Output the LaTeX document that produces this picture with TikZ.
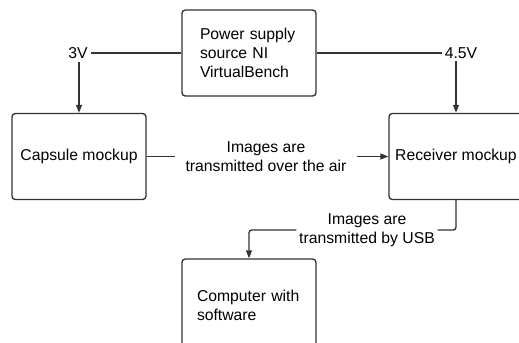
\documentclass[tikz,border=0pt]{standalone}
\usepackage{fontspec}
\setmainfont{Liberation Sans}
\usepackage{tikz}
\usetikzlibrary{arrows.meta, positioning, calc}
\definecolor{linegray}{rgb}{0.2,0.2,0.2}

\begin{document}
\begin{tikzpicture}[x=0.75pt, y=-0.75pt,
    font=\fontsize{11.8}{14.2}\selectfont,
    block/.style={draw=linegray, line width=1pt, rounded corners=2.5pt,
        minimum width=100.5pt, minimum height=64.5pt},
    tag/.style={inner xsep=2pt, inner ysep=2pt},
    wire/.style={draw=linegray, line width=1pt},
    feed/.style={wire, -{Triangle[length=6pt, width=4.5pt]}}]
    \useasboundingbox (0,0) rectangle (519,343);
    \clip (0,0) rectangle (519,343);

    % blocks
    \node[block, align=left, text width=73.5pt] (power) at (249,53)
        {Power supply\\source NI\\VirtualBench};
    \node[block] (capsule) at (79,156.5) {Capsule mockup};
    \node[block] (receiver) at (456,156.5) {Receiver mockup};
    \node[block, align=left, text width=78pt, minimum height=69pt] (computer) at (249,305)
        {Computer with\\software};

    % supply voltages
    \node[tag] (v3) at (78,53) {3V};
    \node[tag] (v45) at (461,53) {4.5V};
    \draw[wire] (power.west) -- (v3.east);
    \draw[wire] (power.east) -- (v45.west);
    \draw[feed] (v3.south -| capsule.north) -- (capsule.north);
    \draw[feed] (v45.south -| receiver.north) -- (receiver.north);

    % image links
    \node[align=center, inner xsep=8pt] (air) at (266,156.5)
        {Images are\\transmitted over the air};
    \draw[wire] (capsule.east) -- (air.west);
    \draw[feed] (air.east) -- (receiver.west);

    \node[align=center, tag] (usb) at (367,230)
        {Images are\\transmitted by USB};
    \draw[wire, rounded corners=2pt] (receiver.south) |- (usb.east);
    \draw[feed, rounded corners=2pt] (usb.west) -| (computer.north);

\end{tikzpicture}
\end{document}
